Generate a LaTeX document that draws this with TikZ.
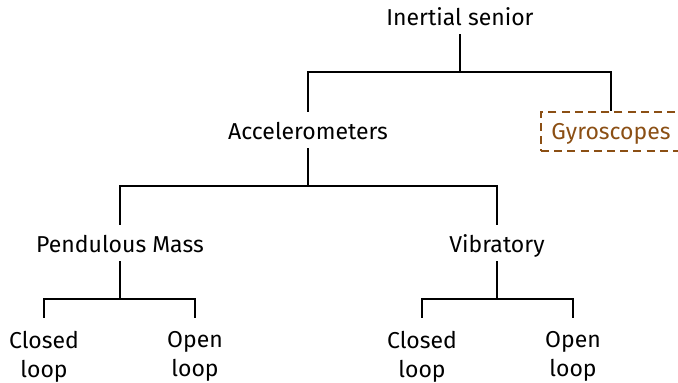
\documentclass[tikz,border=0pt]{standalone}
\usepackage{fontspec}
\setmainfont{Fira Sans}
\usetikzlibrary{positioning}
\definecolor{gyrobrown}{HTML}{8B4F14}

\begin{document}
\begin{tikzpicture}[
  x=0.5pt,y=-0.5pt,
  font=\fontsize{11.5}{14.5}\selectfont,
  tn/.style={inner xsep=2pt,inner ysep=4.5pt,text height=9pt,text depth=0pt,anchor=base},
  leaf/.style={align=center,inner xsep=2pt,inner ysep=6.5pt,anchor=north},
  gyro/.style={tn,text depth=1.5pt,inner xsep=5pt,minimum width=70pt,draw=gyrobrown,
               text=gyrobrown,dashed,dash pattern=on 4pt off 2.6pt,line width=0.9pt},
  edge/.style={line width=1pt},
]
\useasboundingbox (0,0) rectangle (678,382);

% ---------------- the tree ----------------
\node[tn]   (root) at (460,25)  {Inertial senior};
\node[tn]   (acc)  at (308,139) {Accelerometers};
\node[gyro] (gyr)  at (611,139) {Gyroscopes};
\node[tn]   (pend) at (120,252) {Pendulous Mass};
\node[tn]   (vib)  at (497,252) {Vibratory};
\node[leaf] (pc)   at (44,318)  {Closed\\loop};
\node[leaf] (po)   at (195,318) {Open\\loop};
\node[leaf] (vc)   at (422,318) {Closed\\loop};
\node[leaf] (vo)   at (573,318) {Open\\loop};

% ---------------- forked edges ----------------
\foreach \a/\b in {root/acc,root/gyr,acc/pend,acc/vib,pend/pc,pend/po,vib/vc,vib/vo}{
  \draw[edge] (\a.south) -- ++(0,38) -| (\b.north);}

\end{tikzpicture}
\end{document}
